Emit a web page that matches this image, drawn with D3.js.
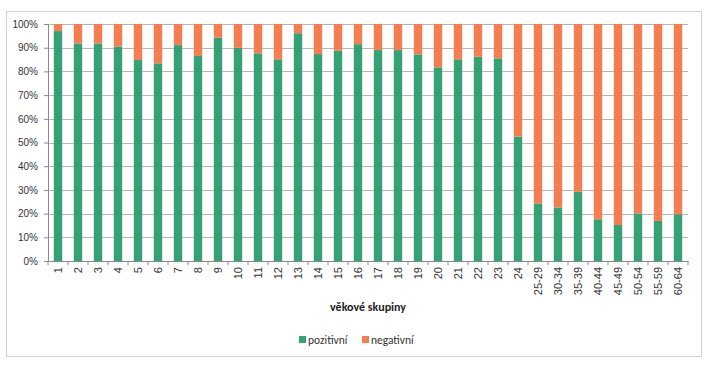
<!DOCTYPE html>
<html><head><meta charset="utf-8">
<script src="https://cdn.jsdelivr.net/npm/d3@7"></script>
<style>body{margin:0;background:#fff;}svg{display:block;font-family:Calibri,"Liberation Sans",Arial,sans-serif;}</style>
</head><body><svg width="713" height="368"></svg>
<script>
const categories = ["1","2","3","4","5","6","7","8","9","10","11","12","13","14","15","16","17","18","19","20","21","22","23","24","25-29","30-34","35-39","40-44","45-49","50-54","55-59","60-64"];
const positive = [97,91.8,91.8,90.4,84.8,83.4,91.1,86.5,94.2,90,87.6,85.1,96.1,87.3,88.7,91.5,89,89,87.2,81.7,85.1,86.2,85.5,52.5,24.3,22.6,29.2,17.6,15.2,20.1,16.9,19.7];
const negative = positive.map(p => 100 - p);
const yTicks = [0,10,20,30,40,50,60,70,80,90,100];
const seriesNames = ["pozitivní","negativní"];
const colors = ["#35a276","#f47d52"];
const axisTitle = "věkové skupiny";

const svg = d3.select("svg");
// outer chart border
svg.append("rect").attr("x",6.5).attr("y",11.5).attr("width",695).attr("height",345)
  .attr("fill","none").attr("stroke","#d4d4d4");

const m = {left:48, right:25, top:24, bottom:107};
const W = 713, H = 368;
const x = d3.scaleBand().domain(categories).range([m.left, W - m.right]).paddingInner(0.58).paddingOuter(0.29);
const y = d3.scaleLinear().domain([0,100]).range([H - m.bottom, m.top]);

// gridlines
svg.append("g").selectAll("line").data(yTicks.slice(1)).join("line")
  .attr("x1", m.left).attr("x2", W - m.right)
  .attr("y1", d => Math.round(y(d)) + 0.5).attr("y2", d => Math.round(y(d)) + 0.5)
  .attr("stroke","#b9b9b9").attr("stroke-width",1);

const data = categories.map((c,i) => ({cat:c, pozitivní:positive[i], negativní:negative[i]}));
const stack = d3.stack().keys(seriesNames)(data);
svg.append("g").selectAll("g").data(stack).join("g").attr("fill",(d,i)=>colors[i])
  .selectAll("rect").data(d=>d).join("rect")
  .attr("x", d => x(d.data.cat)).attr("width", x.bandwidth())
  .attr("y", d => y(d[1])).attr("height", d => y(d[0]) - y(d[1]));

// y axis
const yAxis = svg.append("g").attr("transform",`translate(${m.left},0)`)
  .call(d3.axisLeft(y).tickValues(yTicks).tickFormat(d => d + "%").tickSize(4).tickPadding(6));
yAxis.select(".domain").attr("stroke","#8a8a8a");
yAxis.selectAll(".tick line").attr("stroke","#8a8a8a");
yAxis.selectAll("text").attr("font-size",10).attr("fill","#333");

// x axis
const xAxis = svg.append("g").attr("transform",`translate(0,${H - m.bottom})`)
  .call(d3.axisBottom(x).tickSize(0).tickSizeOuter(0));
xAxis.select(".domain").attr("stroke","#8a8a8a");
xAxis.selectAll("text").attr("font-size",11).attr("fill","#333")
  .attr("transform","rotate(-90)").attr("text-anchor","end")
  .attr("x",-6).attr("y",0).attr("dy","0.35em");
// tick marks between categories
const step = x.step();
svg.append("g").selectAll("line").data(d3.range(categories.length+1)).join("line")
  .attr("x1", i => m.left + i*step).attr("x2", i => m.left + i*step)
  .attr("y1", H - m.bottom).attr("y2", H - m.bottom + 4).attr("stroke","#8a8a8a");

// axis title
svg.append("text").attr("x",(m.left + W - m.right)/2).attr("y",311).attr("text-anchor","middle")
  .attr("font-size",12).attr("font-weight","bold").attr("fill","#222").text(axisTitle);

// legend
const lg = svg.append("g");
const legX = [299, 362];
seriesNames.forEach((s,i) => {
  lg.append("rect").attr("x",legX[i]).attr("y",336).attr("width",7).attr("height",7).attr("fill",colors[i]);
  lg.append("text").attr("x",legX[i]+9).attr("y",343.5).attr("font-size",11.5).attr("fill","#333").text(s);
});
</script></body></html>
